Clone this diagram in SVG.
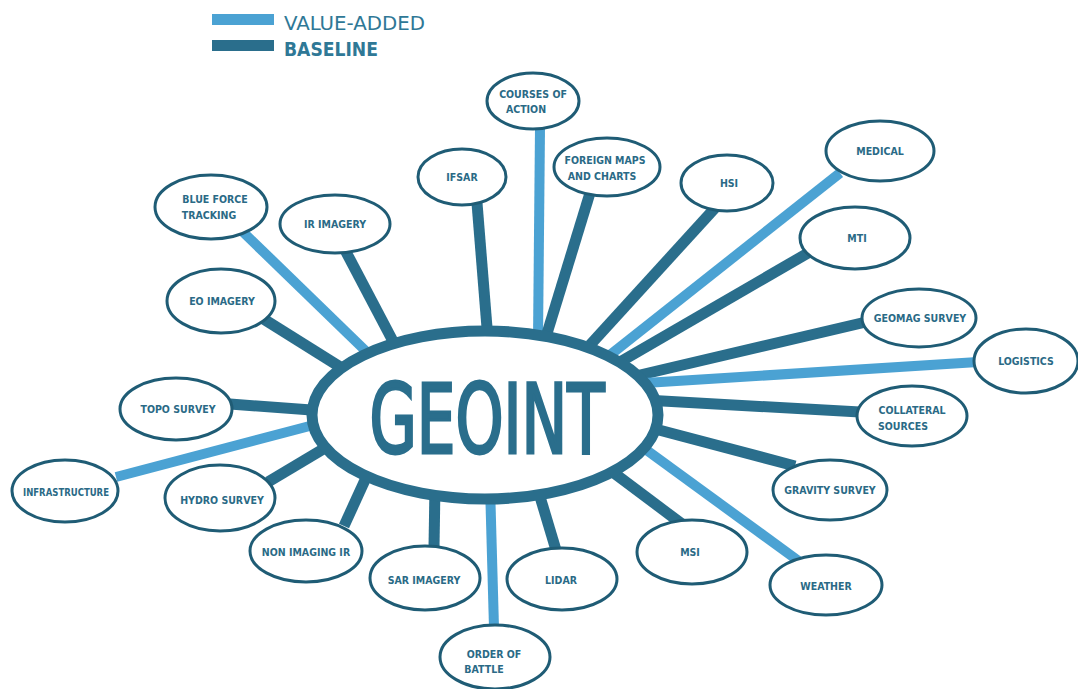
<svg xmlns="http://www.w3.org/2000/svg" width="1078" height="689" viewBox="0 0 1078 689">
<style>
.va{stroke:#4ba2d3;stroke-width:10;stroke-linecap:butt;fill:none}
.bl{stroke:#2a6e8c;stroke-width:11;stroke-linecap:butt;fill:none}
.node ellipse{fill:#fff;stroke:#1f5c75;stroke-width:3}
.node text{font-family:"DejaVu Sans Condensed","Liberation Sans Narrow","DejaVu Sans",sans-serif;font-stretch:condensed;font-weight:bold;font-size:10.5px;fill:#2a6a86;text-anchor:middle}
.leg{font-family:"DejaVu Sans Condensed","DejaVu Sans",sans-serif;font-stretch:condensed;font-size:19px;fill:#2f7896}
.big{font-family:"DejaVu Sans Condensed","DejaVu Sans",sans-serif;font-stretch:condensed;font-weight:normal;font-size:96px;fill:#2a6e8c;stroke:#2a6e8c;stroke-width:3;text-anchor:middle}
</style>
<rect width="1078" height="689" fill="#fff"/>
<g id="legend">
<rect x="212" y="14" width="62" height="11" fill="#4ba2d3"/>
<rect x="212" y="40" width="62" height="11" fill="#2a6e8c"/>
<text class="leg" x="284" y="30" textLength="141" lengthAdjust="spacingAndGlyphs">VALUE-ADDED</text>
<text class="leg" x="284" y="56" textLength="94" lengthAdjust="spacingAndGlyphs" font-weight="bold" fill="#2a6a86">BASELINE</text>
</g>
<g id="connectors">
<line class="va" x1="540" y1="128" x2="538" y2="340"/>
<line class="bl" x1="477" y1="203" x2="488" y2="340"/>
<line class="bl" x1="590" y1="193" x2="545" y2="340"/>
<line class="bl" x1="715" y1="208" x2="590" y2="345"/>
<line class="va" x1="840" y1="173" x2="610" y2="355"/>
<line class="bl" x1="808" y1="253" x2="620" y2="362"/>
<line class="bl" x1="866" y1="322" x2="640" y2="375"/>
<line class="va" x1="978" y1="362" x2="645" y2="383"/>
<line class="bl" x1="860" y1="412" x2="645" y2="400"/>
<line class="bl" x1="795" y1="466" x2="640" y2="425"/>
<line class="va" x1="800" y1="562" x2="630" y2="438"/>
<line class="bl" x1="682" y1="524" x2="590" y2="455"/>
<line class="bl" x1="556" y1="550" x2="535" y2="480"/>
<line class="va" x1="494" y1="628" x2="490" y2="485"/>
<line class="bl" x1="434" y1="548" x2="435" y2="485"/>
<line class="bl" x1="344" y1="526" x2="365" y2="480"/>
<line class="bl" x1="268" y1="482" x2="330" y2="445"/>
<line class="va" x1="116" y1="477" x2="325" y2="422"/>
<line class="bl" x1="230" y1="404" x2="325" y2="411"/>
<line class="bl" x1="262" y1="318" x2="345" y2="370"/>
<line class="va" x1="243" y1="232" x2="375" y2="360"/>
<line class="bl" x1="345" y1="250" x2="395" y2="345"/>
</g>
<g id="geoint">
<ellipse cx="485" cy="415" rx="173" ry="84" fill="#fff" stroke="#2a6e8c" stroke-width="11"/>
<text class="big" x="487" y="453" textLength="235" lengthAdjust="spacingAndGlyphs">GEOINT</text>
</g>
<g id="n-coa" class="node"><ellipse cx="533" cy="101" rx="46" ry="28"/><text x="533" y="98">COURSES OF</text><text x="526" y="113">ACTION</text></g>
<g id="n-ifsar" class="node"><ellipse cx="462" cy="177" rx="44" ry="28"/><text x="462" y="181">IFSAR</text></g>
<g id="n-fmc" class="node"><ellipse cx="607" cy="167" rx="53" ry="29"/><text x="605" y="164">FOREIGN MAPS</text><text x="602" y="180">AND CHARTS</text></g>
<g id="n-hsi" class="node"><ellipse cx="727" cy="183" rx="46" ry="28"/><text x="729" y="187">HSI</text></g>
<g id="n-medical" class="node"><ellipse cx="880" cy="151" rx="54" ry="30"/><text x="880" y="155">MEDICAL</text></g>
<g id="n-mti" class="node"><ellipse cx="855" cy="238" rx="55" ry="31"/><text x="857" y="242">MTI</text></g>
<g id="n-geomag" class="node"><ellipse cx="919" cy="318" rx="57" ry="29"/><text x="920" y="322">GEOMAG SURVEY</text></g>
<g id="n-logistics" class="node"><ellipse cx="1026" cy="361" rx="52" ry="32"/><text x="1026" y="365">LOGISTICS</text></g>
<g id="n-collateral" class="node"><ellipse cx="912" cy="416" rx="55" ry="30"/><text x="912" y="414">COLLATERAL</text><text x="903" y="430">SOURCES</text></g>
<g id="n-gravity" class="node"><ellipse cx="830" cy="490" rx="57" ry="30"/><text x="830" y="494">GRAVITY SURVEY</text></g>
<g id="n-weather" class="node"><ellipse cx="826" cy="585" rx="56" ry="30"/><text x="826" y="590">WEATHER</text></g>
<g id="n-msi" class="node"><ellipse cx="692" cy="552" rx="55" ry="32"/><text x="690" y="556">MSI</text></g>
<g id="n-lidar" class="node"><ellipse cx="562" cy="579" rx="55" ry="31"/><text x="561" y="584">LIDAR</text></g>
<g id="n-oob" class="node"><ellipse cx="495" cy="657" rx="55" ry="32"/><text x="494" y="658">ORDER OF</text><text x="484" y="673">BATTLE</text></g>
<g id="n-sar" class="node"><ellipse cx="425" cy="578" rx="55" ry="32"/><text x="424" y="584">SAR IMAGERY</text></g>
<g id="n-nonir" class="node"><ellipse cx="306" cy="551" rx="56" ry="31"/><text x="306" y="556">NON IMAGING IR</text></g>
<g id="n-hydro" class="node"><ellipse cx="220" cy="498" rx="55" ry="33"/><text x="222" y="504">HYDRO SURVEY</text></g>
<g id="n-infra" class="node"><ellipse cx="65" cy="491" rx="53" ry="31"/><text x="66" y="496" textLength="86" lengthAdjust="spacingAndGlyphs">INFRASTRUCTURE</text></g>
<g id="n-topo" class="node"><ellipse cx="176" cy="409" rx="56" ry="31"/><text x="178" y="413">TOPO SURVEY</text></g>
<g id="n-eo" class="node"><ellipse cx="221" cy="301" rx="54" ry="32"/><text x="222" y="305">EO IMAGERY</text></g>
<g id="n-bft" class="node"><ellipse cx="211" cy="207" rx="56" ry="32"/><text x="215" y="203">BLUE FORCE</text><text x="209" y="219">TRACKING</text></g>
<g id="n-ir" class="node"><ellipse cx="335" cy="224" rx="55" ry="29"/><text x="335" y="228">IR IMAGERY</text></g>
</svg>
